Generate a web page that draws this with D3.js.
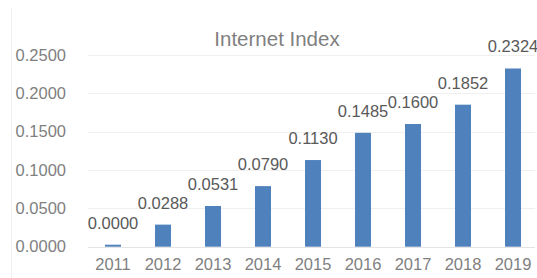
<!DOCTYPE html>
<html lang="en">
<head>
    <meta charset="UTF-8">
    <title>Internet Index</title>
    <script src="https://cdn.jsdelivr.net/npm/d3@7"></script>
    <style>
        body {
            margin: 0;
            padding: 0;
            background: #fff;
            font-family: "Liberation Sans", Arial, sans-serif;
        }
        #chart { display: block; }
    </style>
</head>
<body>
    <svg id="chart"></svg>
    <script>
        // Chart data
        const years = ['2011', '2012', '2013', '2014', '2015', '2016', '2017', '2018', '2019'];
        const indexValues = [0.0000, 0.0288, 0.0531, 0.0790, 0.1130, 0.1485, 0.1600, 0.1852, 0.2324];
        const yTicks = [0, 0.05, 0.10, 0.15, 0.20, 0.25];

        const width = 537, height = 278;
        const margin = { top: 55, right: -1, bottom: 31, left: 88 };

        const svg = d3.select('#chart')
            .attr('width', width)
            .attr('height', height);

        // faint chart-area border on the left
        svg.append('line')
            .attr('x1', 11.5).attr('x2', 11.5)
            .attr('y1', 8).attr('y2', height)
            .attr('stroke', '#f0f0f0');

        const x = d3.scaleBand()
            .domain(years)
            .range([margin.left, width - margin.right])
            .paddingInner(0.68)
            .paddingOuter(0.34);

        const y = d3.scaleLinear()
            .domain([0, 0.25])
            .range([height - margin.bottom - 0.3, margin.top]);

        // gridlines
        svg.append('g')
            .selectAll('line')
            .data(yTicks)
            .enter()
            .append('line')
            .attr('x1', margin.left)
            .attr('x2', width - 2)
            .attr('y1', d => Math.round(y(d)) + 0.5)
            .attr('y2', d => Math.round(y(d)) + 0.5)
            .attr('stroke', d => d === 0 ? '#e4e4e4' : '#f0f0f0');

        // y axis labels
        const yAxis = d3.axisLeft(y)
            .tickValues(yTicks)
            .tickFormat(d3.format('.4f'))
            .tickSize(0)
            .tickPadding(0);

        svg.append('g')
            .attr('transform', `translate(66,0)`)
            .call(yAxis)
            .call(g => g.select('.domain').remove())
            .selectAll('text')
            .attr('fill', '#7f7f7f')
            .attr('font-size', '16.5px')
            .attr('font-family', '"Liberation Sans", Arial, sans-serif');

        // x axis labels
        const xAxis = d3.axisBottom(x).tickSize(0).tickPadding(0);
        svg.append('g')
            .attr('transform', `translate(0,${height - margin.bottom + 11})`)
            .call(xAxis)
            .call(g => g.select('.domain').remove())
            .selectAll('text')
            .attr('fill', '#7f7f7f')
            .attr('font-size', '16.5px')
            .attr('font-family', '"Liberation Sans", Arial, sans-serif');

        // bars
        svg.append('g')
            .selectAll('rect')
            .data(indexValues)
            .enter()
            .append('rect')
            .attr('x', (d, i) => x(years[i]))
            .attr('width', x.bandwidth())
            .attr('y', d => Math.min(y(d), y(0) - 2))
            .attr('height', d => Math.max(y(0) - y(d), 2))
            .attr('fill', '#4f81bd');

        // value labels
        svg.append('g')
            .selectAll('text')
            .data(indexValues)
            .enter()
            .append('text')
            .attr('x', (d, i) => x(years[i]) + x.bandwidth() / 2)
            .attr('y', d => Math.min(y(d), y(0) - 2) - 16)
            .attr('text-anchor', 'middle')
            .attr('fill', '#595959')
            .attr('font-size', '16.5px')
            .text(d => d3.format('.4f')(d));

        // title
        svg.append('text')
            .attr('x', 277)
            .attr('y', 46)
            .attr('text-anchor', 'middle')
            .attr('fill', '#808080')
            .attr('font-size', '20.5px')
            .text('Internet Index');
    </script>
</body>
</html>
